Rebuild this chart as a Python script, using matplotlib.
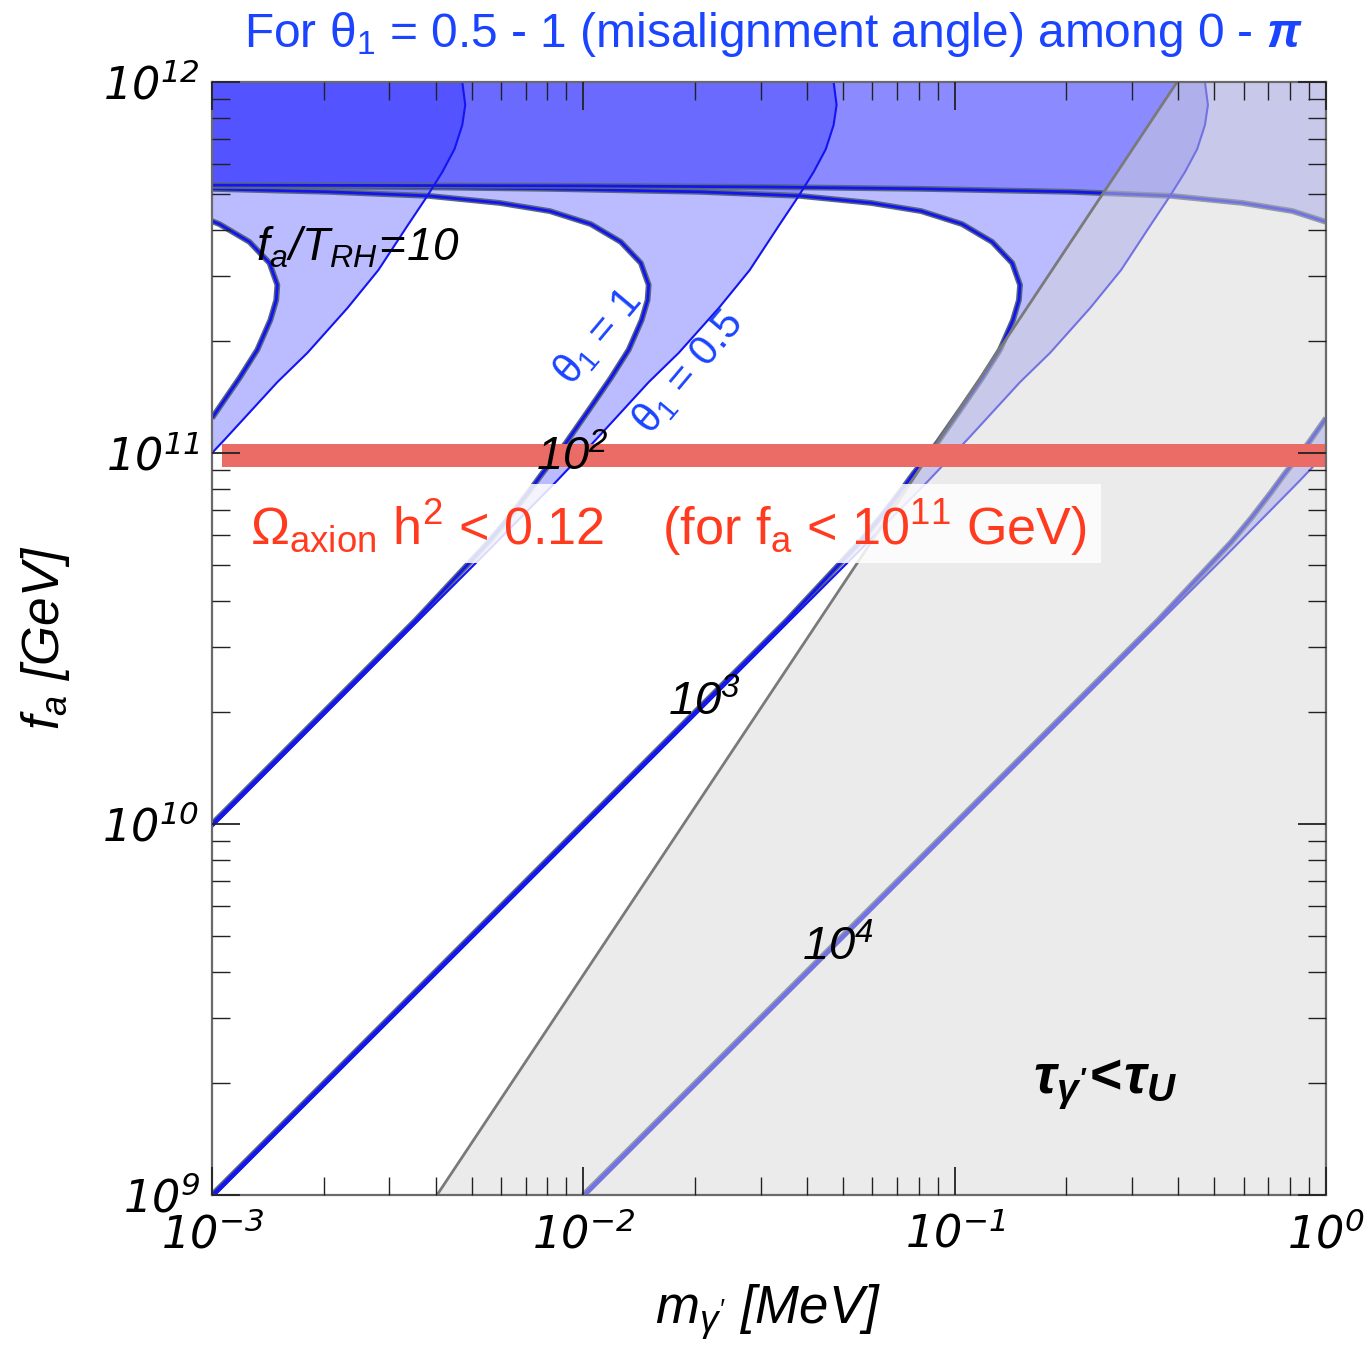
import numpy as np
import matplotlib
matplotlib.use('Agg')
import matplotlib.pyplot as plt
from matplotlib.patches import Rectangle
from matplotlib.ticker import LogLocator, NullFormatter
import matplotlib.patheffects as pe

plt.rcParams['font.family'] = ['Liberation Sans', 'DejaVu Sans']
plt.rcParams['mathtext.fontset'] = 'custom'
plt.rcParams['mathtext.rm'] = 'DejaVu Sans:italic'
plt.rcParams['mathtext.it'] = 'DejaVu Sans:italic'
plt.rcParams['mathtext.sf'] = 'Liberation Sans:italic'
plt.rcParams['mathtext.tt'] = 'Liberation Sans'
plt.rcParams['mathtext.bf'] = 'Liberation Sans:bold:italic'

# ---------------- data (log10 of m [MeV] and f_a [GeV]) ----------------
m_lim = [1e-3, 1.0]
fa_lim = [1e9, 1e12]

x_major = [1e-3, 1e-2, 1e-1, 1.0]
x_labels = [r'$10^{-3}$', r'$10^{-2}$', r'$10^{-1}$', r'$10^{0}$']
y_major = [1e9, 1e10, 1e11, 1e12]
y_labels = [r'$10^{9}$', r'$10^{10}$', r'$10^{11}$', r'$10^{12}$']

# f_a / T_RH = 10
b1_th1_lm = [-3.000, -2.985, -2.926, -2.878, -2.843, -2.827, -2.824, -2.845, -2.899, -2.980, -3.000]
b1_th1_lf = [11.094, 11.116, 11.202, 11.278, 11.358, 11.412, 11.453, 11.512, 11.569, 11.617, 11.625]
b1_th05_lm = [-3.000, -2.967, -2.824, -2.743, -2.635, -2.552, -2.474, -2.420, -2.380, -2.347, -2.326, -2.318, -2.326]
b1_th05_lf = [11.000, 11.035, 11.191, 11.270, 11.391, 11.493, 11.612, 11.693, 11.757, 11.819, 11.884, 11.938, 12.000]

# f_a / T_RH = 10^2
b2_th1_lm = [-3.000, -2.451, -2.255, -2.201, -2.147, -2.112, -2.047, -1.985, -1.926, -1.878, -1.843, -1.827,
             -1.824, -1.845, -1.899, -1.980, -2.090, -2.225, -2.416, -2.686, -3.000]
b2_th1_lf = [10.000, 10.550, 10.760, 10.825, 10.895, 10.943, 11.027, 11.116, 11.202, 11.278, 11.358, 11.412,
             11.453, 11.512, 11.569, 11.617, 11.652, 11.674, 11.693, 11.704, 11.712]
b2_th05_lm = [-3.000, -2.263, -2.074, -1.967, -1.824, -1.743, -1.635, -1.552, -1.474, -1.420, -1.380,
              -1.347, -1.326, -1.318, -1.326]
b2_th05_lf = [9.992, 10.730, 10.922, 11.035, 11.191, 11.270, 11.391, 11.493, 11.612, 11.693, 11.757,
              11.819, 11.884, 11.938, 12.000]

# f_a / T_RH = 10^3
b3_th1_lm = [-3.000, -2.224, -1.451, -1.255, -1.201, -1.147, -1.112, -1.047, -0.985, -0.926, -0.878, -0.843,
             -0.827, -0.824, -0.845, -0.899, -0.980, -1.090, -1.225, -1.416, -1.686, -2.090, -2.494, -3.000]
b3_th1_lf = [9.000, 9.776, 10.550, 10.760, 10.825, 10.895, 10.943, 11.027, 11.116, 11.202, 11.278, 11.358,
             11.412, 11.453, 11.512, 11.569, 11.617, 11.652, 11.674, 11.693, 11.704, 11.712, 11.717, 11.720]
b3_th05_lm = [-2.992, -2.224, -1.263, -1.074, -0.967, -0.824, -0.743, -0.635, -0.552, -0.474, -0.420,
              -0.380, -0.347, -0.326, -0.318, -0.326]
b3_th05_lf = [9.000, 9.768, 10.730, 10.922, 11.035, 11.191, 11.270, 11.391, 11.493, 11.612, 11.693,
              11.757, 11.819, 11.884, 11.938, 12.000]

# f_a / T_RH = 10^4 (nose lies beyond the right edge)
b4_th1_low_lm = [-2.000, -1.224, -0.451, -0.255, -0.201, -0.147, -0.112, -0.047, 0.000]
b4_th1_low_lf = [9.000, 9.776, 10.550, 10.760, 10.825, 10.895, 10.943, 11.027, 11.094]
b4_th1_arm_lm = [0.000, -0.090, -0.225, -0.416, -0.686, -1.090, -1.494, -2.000, -3.000]
b4_th1_arm_lf = [11.623, 11.652, 11.674, 11.693, 11.704, 11.712, 11.717, 11.720, 11.722]
b4_th05_lm = [-1.992, -1.224, -0.263, -0.074, 0.000]
b4_th05_lf = [9.000, 9.768, 10.730, 10.922, 11.000]

# tau_gamma' < tau_U boundary
tau_lm = [-2.394, -0.401]
tau_lf = [9.0, 12.0]

# Omega h^2 band (f_a ~ 1e11)
omega_fa = [9.16e10, 1.057e11]
omega_m_start = 1.064e-3

# ---------------- styles ----------------
FILL = '#1E1EFF'
FILL_A = 0.30
LINE = '#1414F0'
EDGE = '#56677f'
LBLUE = '#1A44FF'
RED = '#FF3A1F'


def p(a):
    return 10.0 ** np.asarray(a, dtype=float)


fig = plt.figure(figsize=(13.7, 13.45), dpi=100)
ax = fig.add_axes([212 / 1370, 1 - 1195 / 1345, 1114 / 1370, 1113 / 1345])
ax.set_xscale('log')
ax.set_yscale('log')
ax.set_xlim(m_lim)
ax.set_ylim(fa_lim)

# ---- band fills ----
bands = [
    (b1_th1_lm, b1_th1_lf, b1_th05_lm, b1_th05_lf),
    (b2_th1_lm, b2_th1_lf, b2_th05_lm, b2_th05_lf),
    (b3_th1_lm, b3_th1_lf, b3_th05_lm, b3_th05_lf),
]
for t1m, t1f, t5m, t5f in bands:
    px = list(p(t5m)) + [m_lim[0]] + list(p(t1m))[::-1]
    py = list(p(t5f)) + [fa_lim[1]] + list(p(t1f))[::-1]
    ax.fill(px, py, color=FILL, alpha=FILL_A, lw=0, zorder=1)

# band 10^4: thin diagonal part and top part
px = list(p(b4_th05_lm)) + list(p(b4_th1_low_lm))[::-1]
py = list(p(b4_th05_lf)) + list(p(b4_th1_low_lf))[::-1]
ax.fill(px, py, color=FILL, alpha=FILL_A, lw=0, zorder=1)
px = list(p(b4_th1_arm_lm)) + [m_lim[0], m_lim[1]]
py = list(p(b4_th1_arm_lf)) + [fa_lim[1], fa_lim[1]]
ax.fill(px, py, color=FILL, alpha=FILL_A, lw=0, zorder=1)

# ---- band lines ----
stroke = [pe.Stroke(linewidth=4.2, foreground=EDGE), pe.Normal()]
theta1_curves = [(b1_th1_lm, b1_th1_lf), (b2_th1_lm, b2_th1_lf), (b3_th1_lm, b3_th1_lf),
                 (b4_th1_low_lm, b4_th1_low_lf), (b4_th1_arm_lm, b4_th1_arm_lf)]
theta05_curves = [(b1_th05_lm, b1_th05_lf), (b2_th05_lm, b2_th05_lf), (b3_th05_lm, b3_th05_lf),
                  (b4_th05_lm, b4_th05_lf)]
for cm, cf in theta1_curves:
    ax.plot(p(cm), p(cf), color=LINE, lw=2.0, zorder=2, path_effects=stroke,
            solid_capstyle='butt', solid_joinstyle='round')
for cm, cf in theta05_curves:
    ax.plot(p(cm), p(cf), color=LINE, lw=1.5, zorder=2, solid_joinstyle='round')

# ---- grey region tau_gamma' < tau_U ----
gx = list(p(tau_lm)) + [m_lim[1], m_lim[1]]
gy = list(p(tau_lf)) + [fa_lim[1], fa_lim[0]]
ax.fill(gx, gy, color='#d6d6d6', alpha=0.485, lw=0, zorder=3)
ax.plot(p(tau_lm), p(tau_lf), color='#7a7a7a', lw=2.0, zorder=4)

# ---- Omega band ----
xmin_frac = (np.log10(omega_m_start) - np.log10(m_lim[0])) / (np.log10(m_lim[1]) - np.log10(m_lim[0]))
ax.axhspan(omega_fa[0], omega_fa[1], xmin=xmin_frac, xmax=1.0, color='#EB6B67', lw=0, zorder=5)

# ---- text box ----
ax.add_patch(Rectangle((0.025, 0.568), 0.773, 0.071, transform=ax.transAxes,
                       fc='white', ec='none', alpha=0.85, zorder=6))
ax.text(0.0341, 0.584,
        r'Ω$_{\mathtt{axion}}$ h$^{\mathtt{2}}$ < 0.12    (for f$_{\mathtt{a}}$ < 10$^{\mathtt{11}}$ GeV)',
        transform=ax.transAxes, color=RED, fontsize=37.5, ha='left', va='baseline', zorder=7)

# ---- annotations ----
ax.text(0.131, 0.851, r'$\mathsf{f_a/T_{RH}\!=\!10}$', transform=ax.transAxes, fontsize=33,
        ha='center', va='center', color='black', zorder=8)
ax.text(0.3465, 0.771, r'$\mathtt{θ_1}$ = 1', transform=ax.transAxes, fontsize=30, rotation=50,
        ha='center', va='center', color=LBLUE, zorder=8)
ax.text(0.4273, 0.7394, r'$\mathtt{θ_1}$ = 0.5', transform=ax.transAxes, fontsize=30, rotation=50,
        ha='center', va='center', color=LBLUE, zorder=8)
ax.text(0.3232, 0.6622, r'$\mathsf{10^{2}}$', transform=ax.transAxes, fontsize=34,
        ha='center', va='center', color='black', zorder=8)
ax.text(0.4425, 0.4420, r'$\mathsf{10^{3}}$', transform=ax.transAxes, fontsize=34,
        ha='center', va='center', color='black', zorder=8)
ax.text(0.5619, 0.2219, r'$\mathsf{10^{4}}$', transform=ax.transAxes, fontsize=34,
        ha='center', va='center', color='black', zorder=8)
ax.text(0.8016, 0.0988, r"$\mathbf{τ_{γ'}\!<\!τ_U}$", transform=ax.transAxes, fontsize=40,
        ha='center', va='center', color='black', zorder=8)

# ---- title and axis labels ----
fig.text(773 / 1370, 1 - 47 / 1345,
         r'For $\mathtt{θ_1}$ = 0.5 - 1 (misalignment angle) among 0 - $\mathbf{π}$',
         color=LBLUE, fontsize=34.5, ha='center', va='baseline')
fig.text(768 / 1370, 1 - 1312 / 1345, r"$\mathsf{m_{γ'}}$ $\mathsf{[MeV]}$", fontsize=38,
         ha='center', va='center')
fig.text(45 / 1370, 1 - 638 / 1345, r'$\mathsf{f_a}$ $\mathsf{[GeV]}$', fontsize=37,
         ha='center', va='center', rotation=90)

# ---- ticks ----
ax.set_xticks(x_major, x_labels)
ax.set_yticks(y_major, y_labels)
ax.xaxis.set_minor_locator(LogLocator(base=10, subs=np.arange(2, 10)))
ax.yaxis.set_minor_locator(LogLocator(base=10, subs=np.arange(2, 10)))
ax.xaxis.set_minor_formatter(NullFormatter())
ax.yaxis.set_minor_formatter(NullFormatter())
ax.tick_params(which='both', direction='in', top=True, right=True, color='#222222')
ax.tick_params(which='major', length=20, width=1.3, labelsize=32)
ax.tick_params(axis='x', which='major', pad=13)
ax.tick_params(axis='y', which='major', pad=9)
ax.tick_params(which='minor', length=13, width=1.0)
ax.xaxis.set_zorder(10)
ax.yaxis.set_zorder(10)
for s in ax.spines.values():
    s.set_color('#6a6a6a')
    s.set_linewidth(1.6)
    s.set_zorder(10)

fig.savefig('out.png', dpi=100)
